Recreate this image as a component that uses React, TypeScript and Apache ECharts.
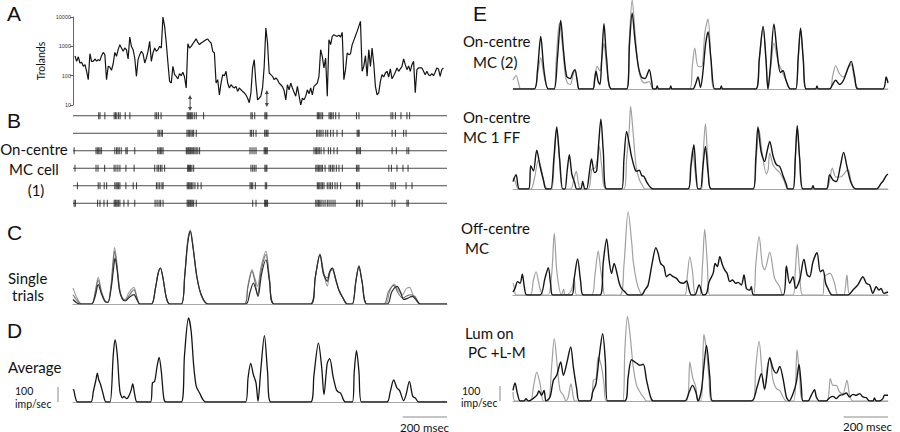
import React, { useEffect, useRef } from "react";
import * as echarts from "echarts";

type Pt = [number, number];

// ---------- time axis (ms) ----------
const T_MAX = 1690;

// ---------- Panel A: luminance (Trolands), sampled every 7.5 ms ----------
const A_T0 = 9;
const A_DT = 7.5;
const A_TROLANDS = [
  470, 308, 440, 270, 285, 208, 237, 141, 73, 560,
  308, 308, 370, 315, 351, 325, 480, 620, 520, 73,
  208, 195, 152, 255, 620, 456, 770, 1140, 880, 675,
  880, 770, 370, 2080, 1000, 770, 400, 95, 351, 520,
  675, 560, 270, 400, 675, 1480, 308, 593, 880, 675,
  770, 1000, 880, 10000, 4800, 1300, 270, 64, 56, 208,
  108, 95, 78, 118, 100, 130, 90, 38, 1230, 880,
  1000, 1230, 1480, 1800, 1360, 1140, 1300, 1400, 1560, 1690,
  1780, 1480, 1300, 675, 593, 56, 73, 22, 56, 108,
  100, 141, 56, 38, 49, 42, 38, 43, 29, 38,
  33, 29, 26, 22, 17, 12, 26, 183, 351, 56,
  15, 17, 20, 38, 208, 4220, 1300, 123, 108, 95,
  73, 83, 73, 56, 49, 42, 31, 15, 49, 33,
  56, 38, 27, 20, 43, 21, 10, 17, 15, 20,
  33, 24, 38, 22, 43, 49, 56, 95, 770, 456,
  183, 400, 20, 1690, 1140, 2190, 2500, 2300, 2190, 2400,
  2080, 3000, 73, 160, 593, 520, 560, 1140, 1600, 2300,
  3240, 4800, 7100, 141, 208, 480, 95, 770, 208, 880,
  255, 43, 22, 26, 64, 108, 90, 123, 141, 90,
  170, 78, 100, 130, 183, 141, 170, 208, 370, 237,
  160, 215, 141, 237, 308, 26, 160, 183, 183, 183,
  141, 108, 141, 108, 100, 118, 100, 130, 183, 170,
  95, 160, 183,
];
const ARROW_TIMES = [529, 876];

// ---------- Panel B: spike times (ms), six trials ----------
const RASTER_ROW1 = [116, 122, 144, 186, 192, 198, 206, 213, 236, 257, 371, 378, 386, 398, 516, 521, 525, 530, 534, 539, 548, 557, 590, 804, 810, 821, 867, 872, 876, 1104, 1109, 1115, 1121, 1128, 1157, 1163, 1169, 1176, 1187, 1202, 1281, 1292, 1437, 1445, 1457, 1482, 1509, 1521];
const RASTER_ROW2 = [384, 390, 398, 404, 515, 521, 527, 533, 539, 545, 557, 801, 807, 815, 827, 866, 872, 876, 881, 1101, 1107, 1115, 1121, 1130, 1142, 1151, 1164, 1176, 1193, 1217, 1284, 1289, 1293, 1442, 1457, 1494, 1505];
const RASTER_ROW3 = [5, 104, 110, 116, 122, 128, 189, 197, 203, 209, 218, 239, 245, 279, 383, 389, 395, 401, 407, 512, 516, 521, 525, 530, 534, 539, 545, 551, 557, 564, 572, 800, 809, 818, 827, 864, 869, 873, 878, 1089, 1097, 1101, 1107, 1113, 1121, 1134, 1154, 1164, 1179, 1194, 1281, 1287, 1293, 1299, 1442, 1461, 1509, 1517];
const RASTER_ROW4 = [9, 104, 113, 143, 186, 194, 203, 212, 239, 276, 369, 380, 387, 395, 402, 414, 518, 522, 527, 531, 537, 545, 804, 812, 819, 827, 867, 872, 876, 1097, 1103, 1109, 1115, 1121, 1127, 1139, 1157, 1164, 1172, 1179, 1190, 1202, 1217, 1281, 1287, 1292, 1427, 1439, 1464, 1491, 1514];
const RASTER_ROW5 = [20, 114, 122, 141, 152, 189, 195, 200, 206, 212, 239, 272, 287, 377, 384, 392, 402, 407, 516, 521, 525, 530, 536, 542, 551, 564, 579, 800, 806, 812, 824, 869, 875, 1104, 1109, 1115, 1121, 1127, 1134, 1149, 1157, 1164, 1172, 1184, 1194, 1209, 1281, 1287, 1295, 1437, 1446, 1457, 1505, 1532];
const RASTER_ROW6 = [5, 11, 111, 122, 140, 155, 186, 191, 195, 200, 206, 212, 230, 249, 279, 371, 380, 389, 396, 407, 516, 521, 525, 530, 534, 539, 545, 557, 812, 827, 866, 870, 875, 879, 1097, 1103, 1109, 1115, 1121, 1130, 1139, 1149, 1157, 1166, 1175, 1184, 1281, 1287, 1295, 1307, 1442, 1454, 1509, 1515];
const RASTER_ROWS = [RASTER_ROW1, RASTER_ROW2, RASTER_ROW3, RASTER_ROW4, RASTER_ROW5, RASTER_ROW6];

// ---------- Panel C: single trials (imp/sec) ----------
const C_TRIAL1: Pt[] = [[0,107],[15,50],[39,0],[84,0],[100,80],[114,178],[128,90],[145,20],[158,15],[172,130],[180,270],[188,377],[198,280],[210,110],[222,45],[236,30],[250,70],[275,111],[290,40],[302,0],[354,0],[372,100],[384,200],[395,240],[407,170],[422,40],[437,0],[489,0],[505,200],[518,420],[530,495],[543,380],[560,180],[580,60],[609,0],[774,0],[790,120],[809,229],[822,170],[834,118],[850,250],[872,351],[888,170],[909,0],[1074,0],[1095,180],[1116,333],[1132,220],[1149,118],[1160,200],[1172,240],[1187,170],[1202,95],[1220,40],[1239,0],[1262,0],[1278,150],[1292,255],[1306,150],[1329,0],[1412,0],[1430,80],[1450,133],[1470,90],[1488,60],[1505,100],[1520,111],[1540,50],[1569,0],[1690,0]];
const C_TRIAL2: Pt[] = [[0,62],[15,30],[39,0],[84,0],[100,70],[114,162],[128,80],[145,20],[158,10],[172,120],[180,250],[188,351],[198,260],[210,100],[222,40],[236,25],[255,60],[275,95],[290,35],[302,0],[354,0],[372,100],[384,200],[395,240],[407,170],[422,40],[437,0],[489,0],[505,190],[518,410],[530,485],[543,370],[560,175],[580,55],[609,0],[774,0],[790,110],[809,218],[822,150],[834,60],[850,220],[872,329],[888,160],[909,0],[1074,0],[1095,180],[1116,329],[1132,200],[1149,173],[1160,215],[1172,229],[1187,160],[1202,90],[1220,40],[1239,0],[1262,0],[1278,150],[1292,255],[1306,150],[1329,0],[1405,0],[1425,80],[1450,124],[1470,70],[1490,40],[1510,55],[1525,62],[1545,50],[1569,0],[1690,0]];
const C_TRIAL3: Pt[] = [[0,30],[15,10],[30,0],[84,0],[100,50],[114,129],[128,70],[145,15],[158,10],[172,100],[182,220],[190,306],[200,220],[210,90],[222,35],[236,20],[255,45],[275,62],[290,25],[302,0],[354,0],[372,100],[384,200],[395,240],[407,170],[422,40],[437,0],[489,0],[505,190],[518,400],[530,484],[543,370],[560,180],[580,60],[609,0],[780,0],[800,80],[815,140],[826,100],[836,51],[852,200],[872,295],[888,150],[909,0],[1074,0],[1095,180],[1116,329],[1132,200],[1149,151],[1160,215],[1172,240],[1187,165],[1202,90],[1220,40],[1239,0],[1262,0],[1278,150],[1292,251],[1306,150],[1329,0],[1420,0],[1440,80],[1464,118],[1480,80],[1495,30],[1515,40],[1532,51],[1550,30],[1569,0],[1690,0]];

// ---------- Panel D: average (imp/sec) ----------
const D_AVERAGE: Pt[] = [[0,78],[3,82],[9,40],[21,0],[80,0],[92,71],[104,150],[110,193],[116,150],[125,115],[135,60],[149,0],[167,0],[182,315],[190,415],[200,315],[212,71],[224,27],[230,38],[242,22],[249,31],[261,71],[270,120],[279,49],[290,0],[350,0],[359,127],[369,138],[380,238],[389,298],[399,204],[410,27],[419,0],[489,0],[504,315],[522,560],[534,471],[545,249],[557,104],[572,60],[587,16],[599,0],[779,0],[791,160],[803,258],[815,182],[827,127],[836,5],[848,204],[865,442],[879,204],[894,0],[1074,0],[1089,182],[1109,393],[1124,227],[1134,49],[1149,260],[1160,289],[1175,171],[1190,82],[1199,67],[1209,60],[1224,9],[1232,0],[1262,0],[1271,204],[1281,342],[1292,204],[1304,0],[1418,0],[1434,71],[1449,147],[1464,93],[1476,76],[1494,9],[1505,49],[1520,138],[1535,38],[1547,27],[1562,0],[1690,0]];

// ---------- Panel E: model (black) vs recorded (grey), imp/sec ----------
const E1_BLACK: Pt[] = [[0,0],[95,0],[110,120],[125,351],[140,120],[159,0],[185,0],[200,200],[215,457],[228,250],[242,84],[258,70],[270,110],[279,129],[290,50],[299,0],[359,0],[368,60],[374,118],[384,50],[392,30],[400,200],[410,435],[422,200],[444,0],[512,0],[525,300],[537,506],[550,320],[565,150],[579,80],[595,70],[614,129],[625,50],[632,0],[644,0],[650,20],[656,0],[705,0],[711,20],[717,0],[810,0],[822,30],[834,80],[845,10],[855,100],[868,300],[879,380],[892,200],[909,0],[933,0],[939,20],[945,0],[1094,0],[1110,200],[1127,417],[1140,200],[1149,0],[1160,150],[1176,433],[1190,250],[1205,110],[1217,122],[1230,60],[1250,0],[1274,0],[1285,200],[1296,406],[1308,200],[1322,0],[1364,0],[1370,20],[1376,0],[1427,0],[1440,30],[1454,58],[1472,30],[1490,60],[1510,140],[1524,184],[1540,80],[1554,0],[1667,0],[1682,80],[1690,40]];
const E1_GRAY: Pt[] = [[0,60],[14,89],[25,40],[35,0],[95,0],[110,90],[125,207],[140,90],[159,0],[185,0],[195,200],[209,440],[222,300],[235,100],[245,40],[258,30],[270,90],[279,129],[290,50],[299,0],[359,0],[368,80],[380,151],[392,120],[400,200],[410,306],[422,150],[444,0],[512,0],[525,350],[537,595],[550,380],[565,140],[579,60],[595,40],[614,50],[632,0],[797,0],[808,150],[819,273],[834,150],[850,150],[865,380],[879,466],[892,200],[909,0],[1094,0],[1110,200],[1127,413],[1140,200],[1149,0],[1162,150],[1176,306],[1195,180],[1210,125],[1230,60],[1250,0],[1274,0],[1285,200],[1296,395],[1308,200],[1322,0],[1427,0],[1440,80],[1454,155],[1472,100],[1490,80],[1510,140],[1524,162],[1540,60],[1560,0],[1690,0]];
const E2_BLACK: Pt[] = [[0,50],[14,95],[29,0],[70,0],[80,155],[92,120],[107,258],[122,150],[137,60],[149,0],[170,0],[184,200],[197,413],[210,200],[224,0],[234,0],[244,120],[254,229],[265,100],[278,40],[287,0],[305,0],[314,51],[324,0],[332,0],[345,120],[354,200],[367,110],[377,120],[386,300],[396,466],[407,250],[422,0],[489,0],[500,200],[512,384],[524,300],[534,218],[550,130],[557,118],[569,125],[580,90],[590,84],[605,40],[632,0],[789,0],[802,150],[815,295],[825,100],[834,0],[845,0],[856,150],[867,284],[880,100],[894,0],[1082,0],[1094,200],[1104,413],[1118,250],[1134,184],[1145,250],[1157,317],[1172,220],[1187,162],[1202,150],[1217,89],[1232,30],[1239,0],[1262,0],[1272,200],[1281,422],[1292,200],[1307,0],[1344,0],[1352,22],[1359,0],[1412,0],[1427,95],[1442,60],[1457,50],[1475,150],[1490,244],[1505,150],[1524,40],[1547,0],[1637,0],[1660,40],[1667,51],[1682,89],[1690,100]];
const E2_GRAY: Pt[] = [[0,75],[10,50],[25,0],[80,0],[95,60],[115,195],[128,130],[145,20],[160,0],[175,0],[186,200],[197,400],[210,200],[224,0],[260,0],[276,80],[285,118],[295,40],[305,0],[340,0],[355,130],[370,140],[380,200],[389,284],[400,150],[420,0],[500,0],[512,200],[524,400],[530,551],[540,400],[555,150],[570,60],[585,20],[595,0],[789,0],[800,150],[809,262],[822,100],[834,0],[850,0],[858,250],[867,435],[878,200],[894,0],[1082,0],[1096,200],[1109,395],[1122,250],[1142,100],[1150,130],[1157,240],[1172,160],[1187,130],[1202,110],[1220,60],[1239,0],[1262,0],[1272,200],[1281,400],[1292,200],[1307,0],[1412,0],[1427,60],[1439,140],[1455,80],[1475,80],[1509,129],[1524,50],[1540,0],[1690,0]];
const E3_BLACK: Pt[] = [[0,20],[9,44],[21,89],[32,78],[42,138],[51,55],[62,0],[122,0],[144,111],[159,182],[170,67],[179,0],[264,0],[276,111],[291,240],[305,89],[317,0],[392,0],[407,222],[422,373],[434,222],[444,144],[456,211],[467,155],[479,78],[489,44],[504,22],[519,0],[579,0],[594,33],[609,67],[627,211],[644,315],[654,278],[665,211],[680,189],[692,122],[707,138],[722,122],[737,111],[752,84],[767,78],[782,93],[794,33],[804,0],[819,0],[839,67],[857,0],[872,10],[884,89],[902,144],[911,211],[921,189],[932,255],[944,200],[954,167],[965,144],[977,89],[989,100],[1004,78],[1014,84],[1029,67],[1041,133],[1052,44],[1067,33],[1074,55],[1085,0],[1217,0],[1232,193],[1247,78],[1262,122],[1274,44],[1292,100],[1311,238],[1326,133],[1337,122],[1352,222],[1370,282],[1385,155],[1397,167],[1409,78],[1419,44],[1439,0],[1509,0],[1532,33],[1554,67],[1577,122],[1592,78],[1607,67],[1622,11],[1637,55],[1649,33],[1659,44],[1671,11],[1690,20]];
const E3_GRAY: Pt[] = [[0,78],[5,55],[14,0],[77,0],[92,100],[104,155],[115,90],[122,40],[137,0],[159,0],[175,150],[186,411],[198,150],[219,0],[228,40],[234,0],[240,0],[258,20],[267,50],[276,111],[287,0],[354,0],[369,130],[384,293],[396,155],[405,80],[414,0],[482,0],[500,200],[519,555],[535,350],[542,222],[557,89],[572,22],[587,0],[774,0],[785,120],[797,255],[809,155],[822,0],[842,0],[854,200],[864,437],[876,200],[887,0],[1082,0],[1094,200],[1109,389],[1124,200],[1134,167],[1157,284],[1179,111],[1202,55],[1217,0],[1262,0],[1272,150],[1281,337],[1292,150],[1307,0],[1395,0],[1404,122],[1429,144],[1449,78],[1464,0],[1490,0],[1505,133],[1520,0],[1690,0]];
const E4_BLACK: Pt[] = [[0,71],[9,120],[20,49],[32,0],[50,0],[58,16],[69,0],[107,38],[117,67],[129,38],[140,71],[149,0],[167,27],[182,138],[197,171],[215,260],[227,171],[242,249],[260,360],[272,226],[287,82],[299,0],[347,0],[359,60],[374,115],[389,304],[404,448],[416,271],[426,0],[504,0],[519,160],[534,275],[549,260],[560,249],[572,238],[587,245],[602,138],[620,27],[632,0],[774,0],[794,60],[809,104],[824,60],[834,0],[849,71],[860,226],[872,371],[887,160],[899,0],[1074,0],[1100,93],[1119,182],[1134,82],[1157,289],[1172,215],[1187,186],[1202,231],[1217,149],[1232,27],[1244,0],[1262,49],[1277,126],[1289,244],[1299,104],[1307,0],[1329,0],[1344,38],[1359,75],[1367,27],[1382,0],[1412,0],[1427,22],[1442,31],[1457,16],[1472,38],[1487,42],[1502,53],[1517,27],[1532,44],[1547,38],[1562,49],[1577,27],[1592,22],[1607,0],[1622,0],[1629,20],[1637,0],[1652,0],[1667,16],[1674,38],[1690,38]];
const E4_GRAY: Pt[] = [[0,60],[10,0],[77,0],[92,93],[107,193],[122,115],[137,0],[159,0],[174,227],[186,415],[200,227],[212,71],[227,38],[239,0],[249,27],[261,115],[272,27],[279,0],[350,0],[362,138],[374,149],[384,293],[399,227],[410,115],[422,0],[494,0],[504,337],[516,564],[527,449],[542,227],[557,104],[572,60],[587,27],[602,0],[782,0],[797,260],[809,160],[824,93],[834,0],[849,0],[860,444],[872,337],[884,138],[894,0],[1082,0],[1094,227],[1109,397],[1124,160],[1134,71],[1146,227],[1157,286],[1172,138],[1187,82],[1202,71],[1217,27],[1232,0],[1265,0],[1280,342],[1292,160],[1307,0],[1412,0],[1430,149],[1442,104],[1457,104],[1472,60],[1487,49],[1505,138],[1517,38],[1532,0],[1690,0]];

const RATE_MAX = 600;
const SCALE_MS = 200;
const SCALE_RATE = 100;

// ---------- layout ----------
const L_LEFT = 73;
const L_W = 374;
const R_LEFT = 513;
const R_W = 375;
const TRACE_H = 90;
const GRIDS = [
  { left: L_LEFT, top: 17, width: L_W, height: 88 },
  { left: L_LEFT, top: 107, width: L_W, height: 105 },
  { left: L_LEFT, top: 214, width: L_W, height: TRACE_H },
  { left: L_LEFT, top: 312, width: L_W, height: TRACE_H },
  { left: R_LEFT, top: -1, width: R_W, height: TRACE_H },
  { left: R_LEFT, top: 99, width: R_W, height: TRACE_H },
  { left: R_LEFT, top: 205, width: R_W, height: TRACE_H },
  { left: R_LEFT, top: 311, width: R_W, height: TRACE_H },
];

const FONT = 'Lato, "Open Sans", sans-serif';
const LETTER_FONT = '"Liberation Sans", Arial, sans-serif';
const BLACK = "#151515";
const GREY = "#a0a0a0";

const xLeft = (t: number) => L_LEFT + (t / T_MAX) * L_W;

function txt(text: string, x: number, y: number, size: number, family = FONT, align = "left") {
  return {
    type: "text",
    x,
    y,
    silent: true,
    style: {
      text,
      fill: "#111",
      fontSize: size,
      fontFamily: family,
      align,
      textAlign: align,
      verticalAlign: "middle",
      textVerticalAlign: "middle",
    },
  };
}

function seg(x1: number, y1: number, x2: number, y2: number, color = "#8a8a8a") {
  return { type: "line", silent: true, shape: { x1, y1, x2, y2 }, style: { stroke: color, lineWidth: 1 } };
}

function arrow(x: number, top: number, bottom: number) {
  const c = "#444";
  return [
    seg(x, top + 2, x, bottom - 2, c),
    { type: "polygon", silent: true, shape: { points: [[x, top], [x - 2, top + 4], [x + 2, top + 4]] }, style: { fill: c } },
    { type: "polygon", silent: true, shape: { points: [[x, bottom], [x - 2, bottom - 4], [x + 2, bottom - 4]] }, style: { fill: c } },
  ];
}

function trace(data: Pt[], grid: number, color: string, width: number, z = 2) {
  return {
    type: "line",
    xAxisIndex: grid,
    yAxisIndex: grid,
    data,
    showSymbol: false,
    smooth: 0.3,
    clip: true,
    silent: true,
    z,
    lineStyle: { color, width },
  };
}

function buildOption() {
  const rateBar = (SCALE_RATE / RATE_MAX) * TRACE_H;
  const msBarL = (SCALE_MS / T_MAX) * L_W;
  const msBarR = (SCALE_MS / T_MAX) * R_W;

  const xAxis = GRIDS.map((_, i) => {
    const baseline = i >= 2;
    return {
      type: "value",
      gridIndex: i,
      min: 0,
      max: T_MAX,
      show: baseline,
      axisLine: { show: baseline, onZero: false, lineStyle: { color: "#a8a8a8", width: 1 } },
      axisTick: { show: false },
      axisLabel: { show: false },
      splitLine: { show: false },
    };
  });

  const yAxis: any[] = GRIDS.map((_, i) => ({
    type: "value",
    gridIndex: i,
    min: 0,
    max: RATE_MAX,
    show: false,
    splitLine: { show: false },
  }));
  yAxis[0] = {
    type: "log",
    gridIndex: 0,
    min: 10,
    max: 10000,
    logBase: 10,
    name: "Trolands",
    nameLocation: "middle",
    nameGap: 27,
    nameTextStyle: { fontFamily: FONT, fontSize: 10.5, color: "#111" },
    axisLine: { show: true, lineStyle: { color: "#666", width: 1 } },
    axisTick: { show: true, length: 3, lineStyle: { color: "#666" } },
    minorTick: { show: false },
    axisLabel: {
      fontSize: 5.5,
      margin: 2,
      color: "#333",
      fontFamily: '"Liberation Sans", sans-serif',
      formatter: (v: number) => String(Math.round(v)),
    },
    splitLine: { show: false },
  };
  yAxis[1] = { type: "value", gridIndex: 1, min: 0.5, max: 6.5, inverse: true, show: false, splitLine: { show: false } };

  const aData: Pt[] = A_TROLANDS.map((v, i) => [A_T0 + i * A_DT, v]);

  const series: any[] = [];
  series.push({ ...trace(aData, 0, BLACK, 1.2), smooth: false });
  RASTER_ROWS.forEach((_, i) => {
    series.push({
      type: "line",
      xAxisIndex: 1,
      yAxisIndex: 1,
      data: [[0, i + 1], [T_MAX, i + 1]],
      showSymbol: false,
      silent: true,
      lineStyle: { color: "#4a4a4a", width: 1 },
    });
  });
  series.push({
    type: "scatter",
    xAxisIndex: 1,
    yAxisIndex: 1,
    symbol: "rect",
    symbolSize: [1.1, 7],
    silent: true,
    itemStyle: { color: "#1e1e1e" },
    data: RASTER_ROWS.flatMap((row, i) => row.map((t) => [t, i + 1])),
    z: 3,
  });
  series.push(trace(C_TRIAL1, 2, "#9a9a9a", 1.1));
  series.push(trace(C_TRIAL2, 2, "#6e6e6e", 1.1));
  series.push(trace(C_TRIAL3, 2, "#2a2a2a", 1.2));
  series.push(trace(D_AVERAGE, 3, BLACK, 1.3));
  const E = [
    [E1_GRAY, E1_BLACK],
    [E2_GRAY, E2_BLACK],
    [E3_GRAY, E3_BLACK],
    [E4_GRAY, E4_BLACK],
  ];
  E.forEach(([g, b], k) => {
    series.push(trace(g, 4 + k, GREY, 1.2, 2));
    series.push(trace(b, 4 + k, BLACK, 1.4, 3));
  });

  const dBase = GRIDS[3].top + GRIDS[3].height;
  const eBase = GRIDS[7].top + GRIDS[7].height;

  const graphic: any[] = [
    txt("A", 7, 13, 21, LETTER_FONT),
    txt("B", 7, 120, 21, LETTER_FONT),
    txt("C", 7, 232, 21, LETTER_FONT),
    txt("D", 7, 330, 21, LETTER_FONT),
    txt("E", 473, 13, 21, LETTER_FONT),
    txt("On-centre", 34, 149, 15, FONT, "center"),
    txt("MC cell", 34, 169, 15, FONT, "center"),
    txt("(1)", 36, 190, 15, FONT, "center"),
    txt("Single", 8, 278, 15),
    txt("trials", 12, 295, 15),
    txt("Average", 8, 367, 15),
    txt("100", 15, 391, 10.5),
    txt("imp/sec", 15, 404, 10.5),
    txt("200 msec", 400, 427, 11.5),
    txt("On-centre", 463, 41, 15),
    txt("MC (2)", 473, 62, 15),
    txt("On-centre", 463, 117, 15),
    txt("MC 1 FF", 463, 137, 15),
    txt("Off-centre", 461, 228, 15),
    txt("MC", 465, 248, 15),
    txt("Lum on", 465, 333, 15),
    txt("PC +L-M", 468, 352, 15),
    txt("100", 462, 391, 10.5),
    txt("imp/sec", 461, 403, 10.5),
    txt("200 msec", 843, 426, 11.5),
    seg(58, dBase - rateBar, 58, dBase),
    seg(500, eBase - rateBar, 500, eBase),
    seg(L_LEFT + L_W - msBarL, 417, L_LEFT + L_W, 417),
    seg(R_LEFT + R_W - msBarR, 417, R_LEFT + R_W, 417),
    ...arrow(xLeft(ARROW_TIMES[0]), 95, 111),
    ...arrow(xLeft(ARROW_TIMES[1]), 90, 107),
  ];

  return {
    animation: false,
    backgroundColor: "#fff",
    grid: GRIDS.map((g) => ({ ...g, containLabel: false, outerBoundsMode: "none" })),
    xAxis,
    yAxis,
    series,
    graphic,
  };
}

export default function App() {
  const ref = useRef<HTMLDivElement>(null);
  useEffect(() => {
    if (!ref.current) return;
    const chart = echarts.init(ref.current, undefined, { renderer: "svg" });
    chart.setOption(buildOption() as any);
    return () => chart.dispose();
  }, []);
  return (
    <div
      ref={ref}
      style={{ position: "fixed", left: 0, top: 0, width: 900, height: 432, background: "#fff" }}
    />
  );
}
